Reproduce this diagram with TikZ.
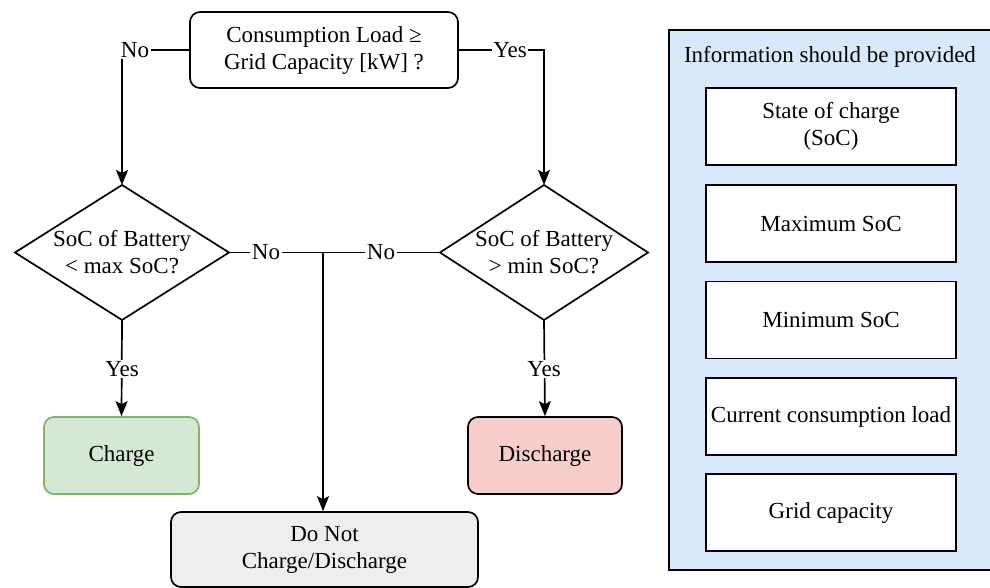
\documentclass[tikz,border=0pt]{standalone}
\usepackage{fontspec}
\setmainfont{Liberation Serif}
\usetikzlibrary{arrows.meta}
\definecolor{gfill}{HTML}{D5E8D4}
\definecolor{gline}{HTML}{82B366}
\definecolor{rfill}{HTML}{F8CECC}
\definecolor{grayfill}{HTML}{EEEEEE}
\definecolor{bfill}{HTML}{DAE8FC}
\tikzset{
  base/.style={font=\fontsize{23}{27}\selectfont, align=center, inner sep=0pt},
  rbox/.style={base, draw=black, line width=1.7pt, rounded corners=10pt, rectangle},
  ibox/.style={base, draw=black, line width=1.7pt, fill=white, minimum width=250pt, minimum height=77pt},
  conn/.style={line width=1.7pt, draw=black},
  arr/.style={conn, -{Stealth[length=15pt,width=12pt,inset=3pt]}},
  lab/.style={base, fill=white, inner sep=1.5pt}
}
\begin{document}
\begin{tikzpicture}[x=1pt,y=-1pt]
\useasboundingbox (0,0) rectangle (990,587);
% right panel
\node[draw=black, line width=1.7pt, fill=bfill, minimum width=323pt, minimum height=540pt, inner sep=0pt] (panel) at (830.5,300) {};
\node[base] (ptitle) at (830,57) {Information should be provided};
\node[ibox] (i1) at (831,126.5) {State of charge\\(SoC)};
\node[ibox] (i2) at (831,223.5) {Maximum SoC};
\node[ibox] (i3) at (831,320) {Minimum SoC};
\node[ibox] (i4) at (831,416.5) {Current consumption load};
\node[ibox] (i5) at (831,512.5) {Grid capacity};
% flowchart
\node[rbox, minimum width=268pt, minimum height=76pt] (top) at (324,50) {Consumption Load ≥\\Grid Capacity [kW] ?};
\draw[conn, line join=miter] (15,252.5) coordinate (ldl) -- (122,185) coordinate (ldt) -- (229,252.5) coordinate (ldr) -- (122,320) coordinate (ldb) -- cycle;
\node[base] (ldtext) at (122,252.5) {SoC of Battery\\< max SoC?};
\draw[conn, line join=miter] (440,252.5) coordinate (rdl) -- (544,185) coordinate (rdt) -- (648,252.5) coordinate (rdr) -- (544,320) coordinate (rdb) -- cycle;
\node[base] (rdtext) at (544,252.5) {SoC of Battery\\> min SoC?};
\node[rbox, fill=gfill, draw=gline, minimum width=155pt, minimum height=77pt] (charge) at (121.5,455.5) {Charge};
\node[rbox, fill=rfill, minimum width=154pt, minimum height=77pt] (dis) at (545,455.5) {Discharge};
\node[rbox, fill=grayfill, minimum width=307pt, minimum height=75pt] (dont) at (324.5,549.5) {Do Not\\Charge/Discharge};
% connectors
\coordinate (tl) at (122,50);
\coordinate (tr) at (544,50);
\coordinate (mid) at (323,252.5);
\draw[arr] (top.west) -- (tl) -- (ldt);
\draw[arr] (top.east) -- (tr) -- (rdt);
\draw[conn] (ldr) -- (mid);
\draw[conn] (rdl) -- (mid);
\draw[arr] (mid) -- (mid |- dont.north);
\draw[arr] (ldb) -- (charge.north);
\draw[arr] (rdb) -- (dis.north);
% labels
\node[lab] (lno1) at (135,50) {No};
\node[lab] (lyes1) at (510,50) {Yes};
\node[lab] (lno2) at (266,252.5) {No};
\node[lab] (lno3) at (381,252.5) {No};
\node[lab] (lyes2) at (122,369) {Yes};
\node[lab] (lyes3) at (544,369) {Yes};
\end{tikzpicture}
\end{document}
